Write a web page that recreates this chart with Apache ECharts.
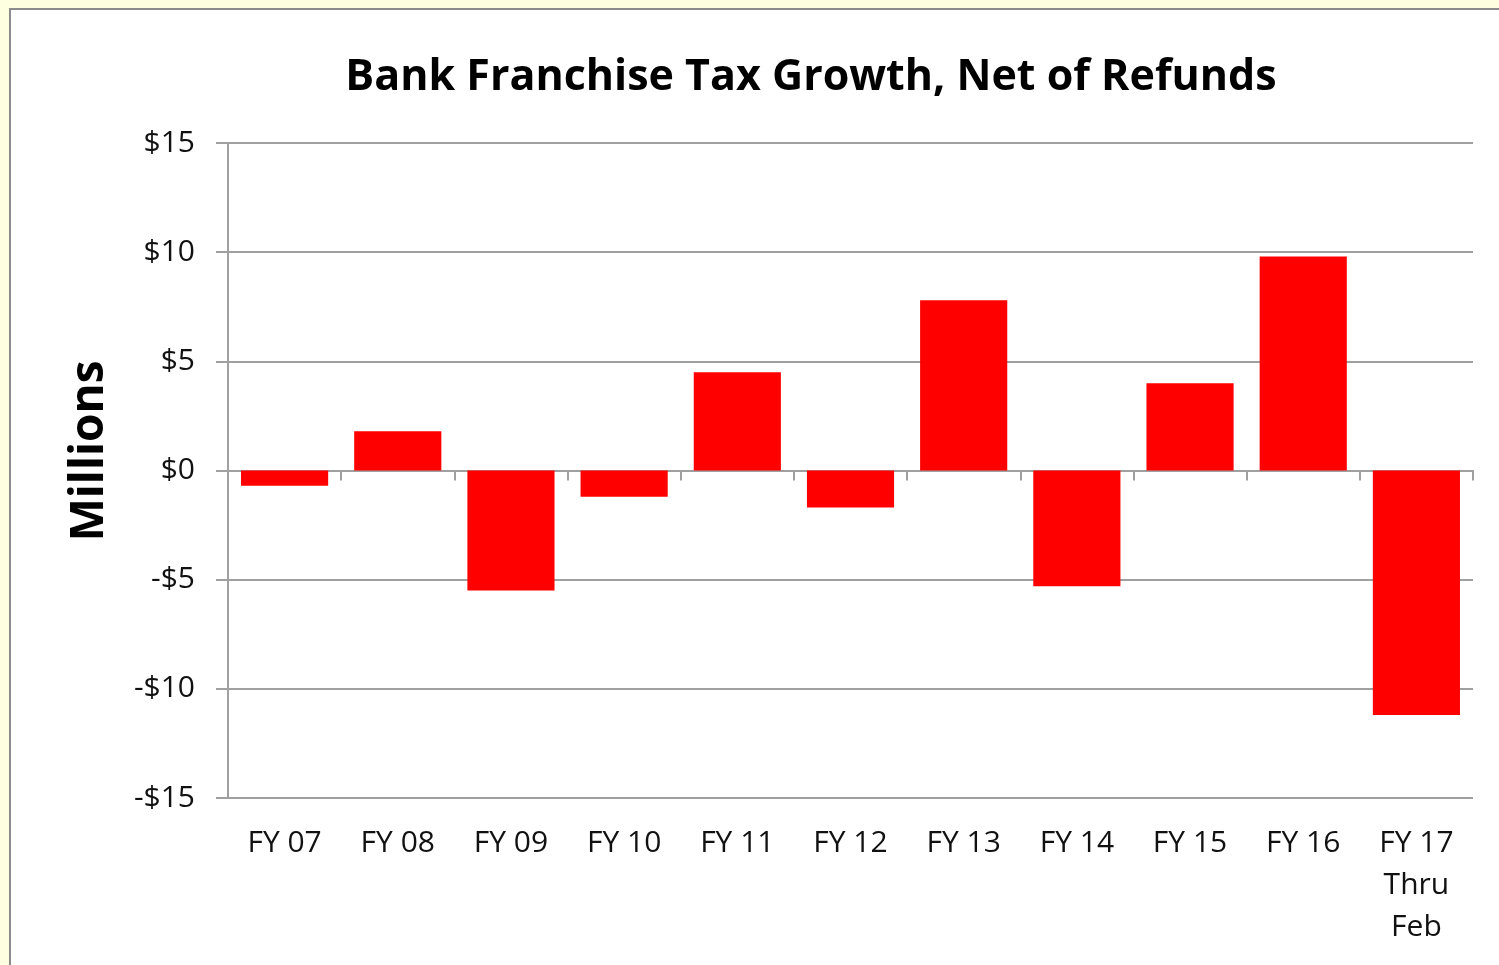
<!DOCTYPE html>
<html>
<head>
<meta charset="utf-8">
<script src="https://cdn.jsdelivr.net/npm/echarts@6/dist/echarts.min.js"></script>
<style>
  html, body { margin: 0; padding: 0; width: 1499px; height: 965px; overflow: hidden; background: #fefee0; }
  #frame {
    position: absolute; left: 9px; top: 8px; width: 1510px; height: 980px;
    background: #ffffff; border: 2px solid #8c8c8c; box-sizing: border-box;
    box-shadow: 2px 2px 2px #c8c8c8;
  }
  #chart { position: absolute; left: 0; top: 0; width: 1499px; height: 965px; }
</style>
</head>
<body>
<div id="frame"></div>
<div id="chart"></div>
<script>
// Fiscal years and yearly growth (millions of dollars)
const categories = ['FY 07', 'FY 08', 'FY 09', 'FY 10', 'FY 11', 'FY 12', 'FY 13', 'FY 14', 'FY 15', 'FY 16', 'FY 17\nThru\nFeb'];
const growth = [-0.7, 1.8, -5.5, -1.2, 4.5, -1.7, 7.8, -5.3, 4.0, 9.8, -11.2];
const yTicks = { min: -15, max: 15, step: 5 };

const font = '"Open Sans", "Noto Sans", sans-serif';
const chart = echarts.init(document.getElementById('chart'), null, { renderer: 'canvas' });

function money(v) {
  return v < 0 ? '-$' + Math.abs(v) : '$' + v;
}

chart.setOption({
  backgroundColor: 'transparent',
  animation: false,
  title: {
    text: 'Bank Franchise Tax Growth, Net of Refunds',
    left: 806, top: 51, textAlign: 'center',
    textStyle: { fontFamily: font, fontWeight: 'bold', fontSize: 43, color: '#000' }
  },
  // rotated axis title, placed a little above the plot's middle
  graphic: [{
    type: 'text', x: 90, y: 451, rotation: Math.PI / 2,
    style: {
      text: 'Millions', fontFamily: font, fontWeight: 'bold', fontSize: 46,
      fill: '#000', align: 'center', verticalAlign: 'middle'
    }
  }],
  grid: { left: 228, right: 26, top: 143, bottom: 167, containLabel: false },
  xAxis: [
    {
      type: 'category', data: categories, position: 'bottom',
      axisLine: { onZero: false, show: false },
      axisTick: { show: false },
      axisLabel: { fontFamily: font, fontSize: 30, color: '#111', margin: 24, lineHeight: 42, align: 'center' }
    },
    {
      type: 'category', data: categories, position: 'bottom',
      axisLine: { onZero: true, lineStyle: { color: '#a0a0a0', width: 2 } },
      axisTick: { show: true, length: 10, lineStyle: { color: '#a0a0a0', width: 2 } },
      axisLabel: { show: false }
    }
  ],
  yAxis: {
    type: 'value', min: yTicks.min, max: yTicks.max, interval: yTicks.step,
    axisLine: { show: true, lineStyle: { color: '#a0a0a0', width: 2 } },
    axisTick: { show: true, length: 12, lineStyle: { color: '#a0a0a0', width: 2 } },
    splitLine: { show: true, lineStyle: { color: '#a0a0a0', width: 2 } },
    axisLabel: { fontFamily: font, fontSize: 30, color: '#111', margin: 33, formatter: money }
  },
  series: [{
    type: 'bar', data: growth, barWidth: '77%',
    itemStyle: { color: '#ff0000' }
  }]
});
</script>
</body>
</html>
